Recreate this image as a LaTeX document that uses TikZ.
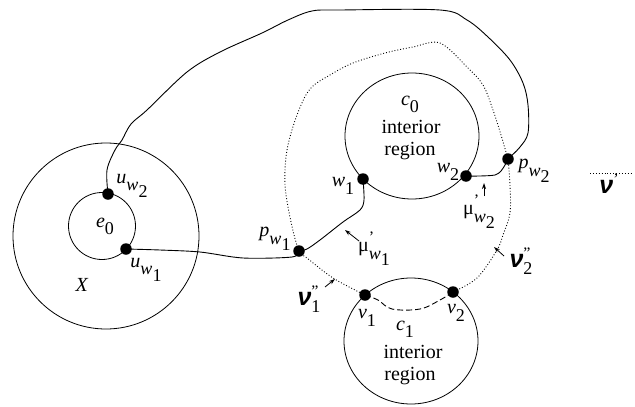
\documentclass[tikz,border=0pt]{standalone}
\usepackage{fontspec}
\setmainfont{Liberation Serif}
\newfontfamily\nufont{Liberation Sans}
\usetikzlibrary{arrows.meta,shapes.geometric}
\newcommand\sbx[1]{\raisebox{-0.36em}{\fontsize{18}{18}\selectfont #1}}
\newcommand\nuv{{\fontsize{25}{25}\selectfont\nufont\bfseries\itshape ν}}
\newcommand\prm{\rlap{\raisebox{0.45em}{\fontsize{16}{16}\selectfont\symbol{39}}}}
\newcommand\dprm{\rlap{\raisebox{0.45em}{\fontsize{16}{16}\selectfont\symbol{34}}}}
\begin{document}
\begin{tikzpicture}[x=1pt,y=-1pt,
  lbl/.style={font=\fontsize{20}{22}\selectfont, inner sep=0pt},
  dotn/.style={circle,fill=black,inner sep=0pt,minimum size=11.5pt},
  ring/.style={draw,circle,line width=0.8pt,inner sep=0pt},
  oval/.style={draw,ellipse,line width=0.8pt,inner sep=0pt,minimum width=134pt,minimum height=126pt},
  wire/.style={line width=0.9pt},
  dotwire/.style={dotted,line width=0.9pt},
  dashwire/.style={dash pattern=on 6pt off 3pt,line width=0.9pt},
  tip/.style={-{Stealth[length=6pt,width=4pt]},line width=0.8pt}]
\useasboundingbox (0,0) rectangle (635,407);
% regions
\node[ring,minimum size=186pt] (X) at (106,236) {};
\node[ring,minimum size=67pt] (E) at (102,226) {};
\node[oval] (C0) at (412,136) {};
\node[oval] (C1) at (411,341) {};
% dots
\node[dotn] (uw2) at (108,194) {};
\node[dotn] (uw1) at (126,249) {};
\node[dotn] (pw1) at (299,251) {};
\node[dotn] (w1) at (363,179) {};
\node[dotn] (w2) at (466,176) {};
\node[dotn] (pw2) at (508,159) {};
\node[dotn] (v1) at (365,295) {};
\node[dotn] (v2) at (453,292) {};
% legend
\coordinate (lgA) at (590,173);
\coordinate (lgB) at (633,173);
\draw[dotwire] (lgA) -- (lgB);
% solid wires
\draw[wire] plot[smooth,tension=0.5] coordinates {(uw1.center) (160,250) (200,252) (243,258) (292,257) (pw1.center)};
\draw[wire] plot[smooth,tension=0.5] coordinates {(pw1.center) (307,249) (320,240) (343,222) (360,210) (364,200) (w1.center)};
\draw[wire] plot[smooth,tension=0.5] coordinates {(w2.center) (480,176) (495,175) (501,171) (505,165) (pw2.center)};
\draw[wire] plot[smooth,tension=0.55] coordinates {(uw2.center) (107,170) (115,150) (122,140) (131,124) (147,110) (187,72) (220,52) (262,33) (288,20) (312,11) (340,10) (440,10) (467,20) (488,37) (510,60) (523,83) (528,105) (528,133) (520,147) (pw2.center)};
% dotted loop
\draw[dotwire] plot[smooth,tension=0.55] coordinates {(v1.center) (333,278) (307,258) (pw1.center) (291,222) (285,185) (287,150) (297,115) (310,89) (330,75) (353,63) (385,53) (413,47) (440,43) (467,67) (483,85) (493,110) (501,135) (pw2.center)};
\draw[dotwire] plot[smooth,tension=0.55] coordinates {(pw2.center) (510,185) (510,213) (503,235) (497,250) (477,278) (v2.center)};
% dashed
\draw[dashwire] plot[smooth,tension=0.6] coordinates {(v1.center) (378,300) (392,309) (420,309) (440,300) (v2.center)};
% labels
\node[lbl] (lX) at (82,285) {\textit{X}};
\node[lbl] (le0) at (105,226) {\textit{e}\sbx{0}};
\node[lbl] (luw2) at (132,186) {\textit{u}\sbx{\textit{w}\sbx{2}}};
\node[lbl] (luw1) at (146,270) {\textit{u}\sbx{\textit{w}\sbx{1}}};
\node[lbl] (lpw1) at (275,239) {\textit{p}\sbx{\textit{w}\sbx{1}}};
\node[lbl] (lpw2) at (534,171) {\textit{p}\sbx{\textit{w}\sbx{2}}};
\node[lbl] (lw1) at (343,186) {\textit{w}\sbx{1}};
\node[lbl] (lw2) at (448,172) {\textit{w}\sbx{2}};
\node[lbl] (lv1) at (367,318) {\textit{v}\sbx{1}};
\node[lbl] (lv2) at (456,313) {\textit{v}\sbx{2}};
\node[lbl] (lc0) at (410,104) {\textit{c}\sbx{0}};
\node[lbl] (li0) at (411,127) {interior};
\node[lbl] (lr0) at (410,151) {region};
\node[lbl] (lc1) at (405,329) {\textit{c}\sbx{1}};
\node[lbl] (li1) at (413,352) {interior};
\node[lbl] (lr1) at (410,376) {region};
\node[lbl] (lmu1) at (374,249) {μ\prm\sbx{\textit{w}\sbx{1}}};
\node[lbl] (lmu2) at (479,212) {μ\prm\sbx{\textit{w}\sbx{2}}};
\node[lbl] (lnu1) at (309,299) {\nuv\dprm\sbx{1}};
\node[lbl] (lnu2) at (521,261) {\nuv\dprm\sbx{2}};
\node[lbl] (lnu) at (609,184) {\nuv\raisebox{0.45em}{\fontsize{16}{16}\selectfont\symbol{39}}};
% small arrows
\coordinate (a1s) at (359,241); \coordinate (a1e) at (345,230);
\draw[tip] (a1s) -- (a1e);
\coordinate (a2s) at (484,196); \coordinate (a2e) at (484,183);
\draw[tip] (a2s) -- (a2e);
\coordinate (a3s) at (504,256); \coordinate (a3e) at (494,247);
\draw[tip] (a3s) -- (a3e);
\coordinate (a4s) at (325,287); \coordinate (a4e) at (335,279);
\draw[tip] (a4s) -- (a4e);
\end{tikzpicture}
\end{document}
